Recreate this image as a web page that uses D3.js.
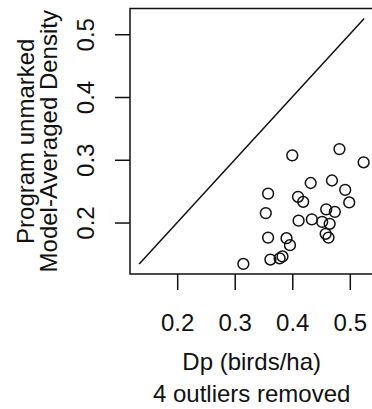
<!DOCTYPE html>
<html>
<head>
<meta charset="utf-8">
<script src="https://cdn.jsdelivr.net/npm/d3@7"></script>
<style>
  html, body { margin: 0; padding: 0; background: #fff; }
  svg text { font-family: "Liberation Sans", Arial, sans-serif; fill: #111; }
</style>
</head>
<body>
<svg id="chart" width="372" height="409"></svg>
<script>
// Dp (birds/ha) vs program unmarked model-averaged density
var dpValues = [0.400, 0.482, 0.524, 0.432, 0.469, 0.358, 0.410, 0.419, 0.492, 0.499,
                0.459, 0.474, 0.354, 0.411, 0.434, 0.452, 0.465, 0.458, 0.463, 0.358,
                0.390, 0.396, 0.362, 0.378, 0.383, 0.315];
var densityValues = [0.307, 0.317, 0.296, 0.263, 0.267, 0.246, 0.241, 0.233, 0.252, 0.232,
                     0.221, 0.217, 0.215, 0.203, 0.205, 0.201, 0.198, 0.182, 0.176, 0.176,
                     0.175, 0.164, 0.141, 0.143, 0.146, 0.134];
var lineRange = [0.134, 0.525];          // 1:1 reference line
var tickValues = [0.2, 0.3, 0.4, 0.5];
var axisDomain = [0.118, 0.541];
var yTitleLines = ["Program unmarked", "Model-Averaged Density"];
var xTitle = "Dp (birds/ha)";
var subTitle = "4 outliers removed";

var svg = d3.select("#chart");
var fontSize = 24;

var plot = { left: 130, right: 373.4, top: 8.5, bottom: 274 };

var x = d3.scaleLinear().domain(axisDomain).range([plot.left, plot.right]);
var y = d3.scaleLinear().domain(axisDomain).range([plot.bottom, plot.top]);

// box
svg.append("rect")
    .attr("x", plot.left).attr("y", plot.top)
    .attr("width", plot.right - plot.left).attr("height", plot.bottom - plot.top)
    .attr("fill", "none").attr("stroke", "#111").attr("stroke-width", 1.5);

// x axis
var xAxis = svg.append("g")
    .attr("transform", "translate(0," + plot.bottom + ")")
    .call(d3.axisBottom(x).tickValues(tickValues).tickSize(16).tickFormat(d3.format(".1f")));
xAxis.select(".domain").remove();
xAxis.selectAll("line").attr("stroke", "#111").attr("stroke-width", 1.5);
xAxis.selectAll("text")
    .attr("y", 57).attr("dy", 0)
    .style("font-size", fontSize + "px")
    .style("font-family", "'Liberation Sans', Arial, sans-serif")
    .attr("fill", "#111");

// y axis, labels rotated like R's default
var yAxis = svg.append("g")
    .attr("transform", "translate(" + plot.left + ",0)")
    .call(d3.axisLeft(y).tickValues(tickValues).tickSize(15).tickFormat(d3.format(".1f")));
yAxis.select(".domain").remove();
yAxis.selectAll("line").attr("stroke", "#111").attr("stroke-width", 1.5);
yAxis.selectAll("text")
    .attr("x", 0).attr("dy", 0)
    .attr("text-anchor", "middle")
    .attr("transform", "translate(-36,0) rotate(-90)")
    .style("font-size", fontSize + "px")
    .style("font-family", "'Liberation Sans', Arial, sans-serif")
    .attr("fill", "#111");

// reference line
svg.append("line")
    .attr("x1", x(lineRange[0])).attr("y1", y(lineRange[0]))
    .attr("x2", x(lineRange[1])).attr("y2", y(lineRange[1]))
    .attr("stroke", "#111").attr("stroke-width", 1.5);

// points
svg.append("g").selectAll("circle")
    .data(dpValues.map(function(d, i) { return [d, densityValues[i]]; }))
    .join("circle")
    .attr("cx", function(d) { return x(d[0]); })
    .attr("cy", function(d) { return y(d[1]); })
    .attr("r", 5.4)
    .attr("fill", "none")
    .attr("stroke", "#111")
    .attr("stroke-width", 1.5);

// titles
var midX = (plot.left + plot.right) / 2;
var midY = (plot.top + plot.bottom) / 2;

svg.append("text").attr("x", midX).attr("y", 370)
    .attr("text-anchor", "middle").style("font-size", fontSize + "px").text(xTitle);
svg.append("text").attr("x", midX).attr("y", 402)
    .attr("text-anchor", "middle").style("font-size", fontSize + "px").text(subTitle);

yTitleLines.forEach(function(t, i) {
    svg.append("text")
        .attr("transform", "translate(" + (34 + i * 23) + "," + midY + ") rotate(-90)")
        .attr("text-anchor", "middle")
        .style("font-size", fontSize + "px")
        .text(t);
});
</script>
</body>
</html>
